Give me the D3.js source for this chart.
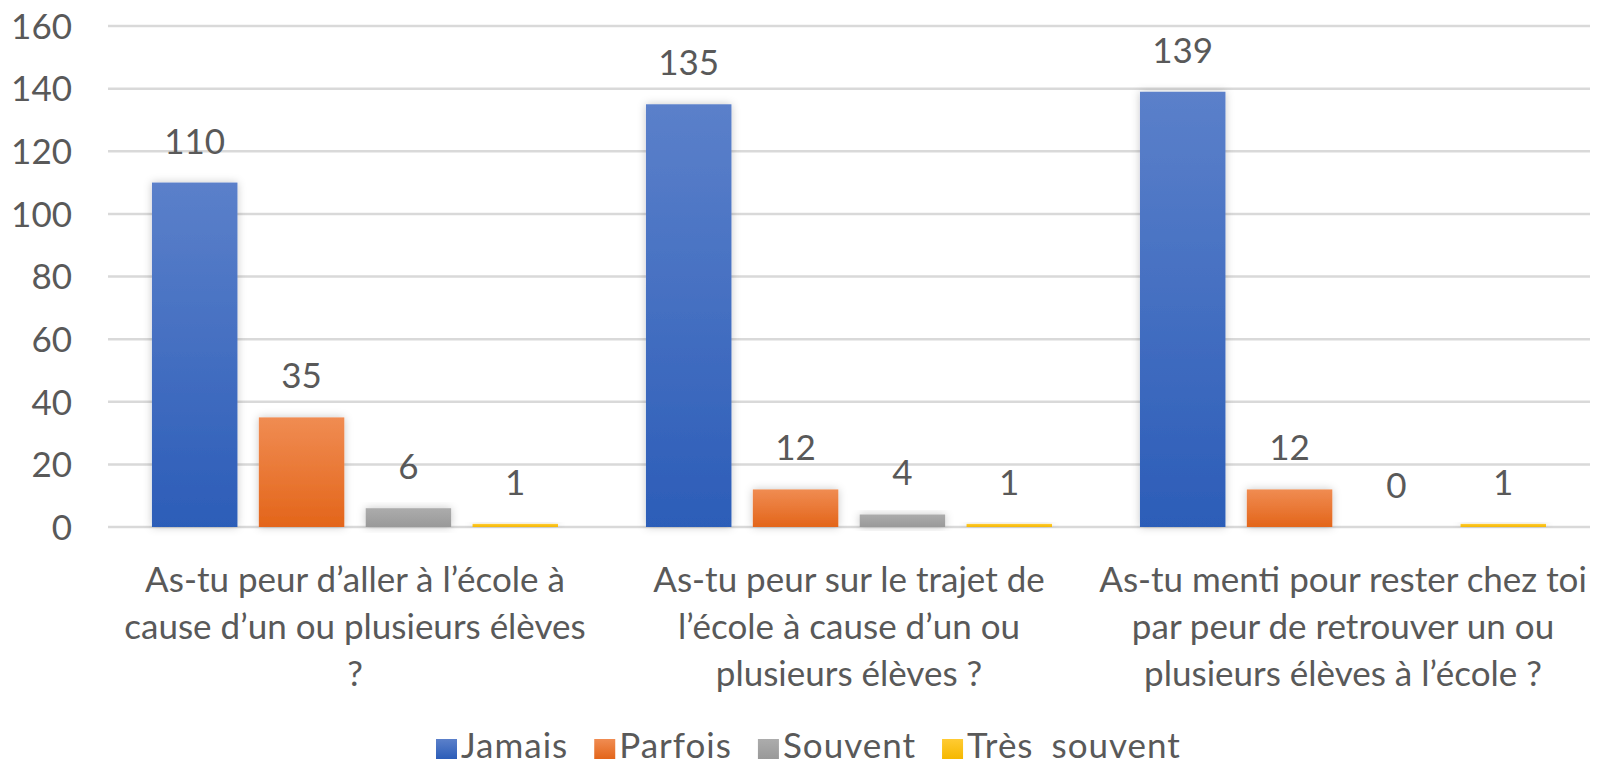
<!DOCTYPE html>
<html>
<head>
<meta charset="utf-8">
<script src="https://cdn.jsdelivr.net/npm/d3@7"></script>
<style>
  body { margin: 0; background: #fff; }
  text { font-family: Lato, 'Open Sans', sans-serif; fill: #595959; }
</style>
</head>
<body>
<div id="chart"></div>
<script>
const categories = [
  ['As-tu peur d’aller à l’école à', 'cause d’un ou plusieurs élèves', '?'],
  ['As-tu peur sur le trajet de', 'l’école à cause d’un ou', 'plusieurs élèves ?'],
  ['As-tu menti pour rester chez toi', 'par peur de retrouver un ou', 'plusieurs élèves à l’école ?']
]
const seriesNames = ['Jamais', 'Parfois', 'Souvent', 'Très souvent']
const jamais = [110, 135, 139]
const parfois = [35, 12, 12]
const souvent = [6, 4, 0]
const tresSouvent = [1, 1, 1]
const yTicks = [0, 20, 40, 60, 80, 100, 120, 140, 160]

const seriesValues = [jamais, parfois, souvent, tresSouvent]
const colors = [
  ['#5b80ca', '#2c5db8'],
  ['#f08c52', '#e3651a'],
  ['#acacac', '#999999'],
  ['#ffcb33', '#f5b800']
]

const width = 1599
const height = 768
const fontSize = 35
const plot = { left: 108, right: 1590, top: 26, bottom: 527 }

const svg = d3
  .select('#chart')
  .append('svg')
  .attr('width', width)
  .attr('height', height)

const defs = svg.append('defs')

const shadow = defs.append('filter')
  .attr('id', 'shadow')
  .attr('x', '-30%').attr('y', '-30%')
  .attr('width', '160%').attr('height', '160%')
shadow.append('feDropShadow')
  .attr('dx', 0).attr('dy', 0)
  .attr('stdDeviation', 4)
  .attr('flood-color', '#000')
  .attr('flood-opacity', 0.22)

colors.forEach((c, i) => {
  const g = defs.append('linearGradient')
    .attr('id', 'grad' + i)
    .attr('x1', 0).attr('y1', 0).attr('x2', 0).attr('y2', 1)
  g.append('stop').attr('offset', '0%').attr('stop-color', c[0])
  g.append('stop').attr('offset', '100%').attr('stop-color', c[1])
})

const x0 = d3.scaleBand()
  .domain(d3.range(categories.length))
  .range([plot.left, plot.right])
  .paddingInner(0.178)
  .paddingOuter(0.089)

const x1 = d3.scaleBand()
  .domain(d3.range(seriesNames.length))
  .range([0, x0.bandwidth()])
  .paddingInner(0.2)

const y = d3.scaleLinear()
  .domain([0, 160])
  .range([plot.bottom, plot.top])

// gridlines
svg.append('g')
  .selectAll('line')
  .data(yTicks)
  .enter()
  .append('line')
  .attr('x1', plot.left)
  .attr('x2', plot.right)
  .attr('y1', d => y(d))
  .attr('y2', d => y(d))
  .attr('stroke', '#d9d9d9')
  .attr('stroke-width', 2.5)

// y axis labels
const yAxis = d3.axisLeft(y).tickValues(yTicks).tickSize(0).tickPadding(0)
const yG = svg.append('g')
  .attr('transform', 'translate(72,0)')
  .call(yAxis)
yG.select('.domain').remove()
yG.selectAll('text')
  .attr('font-size', fontSize)
  .attr('font-family', null)
  .attr('dy', '0.35em')

// bars
const groups = svg.append('g')
  .selectAll('g')
  .data(categories)
  .enter()
  .append('g')
  .attr('transform', (d, i) => 'translate(' + x0(i) + ',0)')

groups.selectAll('rect')
  .data((d, i) => seriesValues.map((vals, s) => ({ s: s, v: vals[i] })))
  .enter()
  .append('rect')
  .attr('x', d => x1(d.s))
  .attr('width', x1.bandwidth())
  .attr('y', d => y(d.v))
  .attr('height', d => y(0) - y(d.v))
  .attr('fill', d => 'url(#grad' + d.s + ')')
  .attr('filter', 'url(#shadow)')

groups.selectAll('text.value')
  .data((d, i) => seriesValues.map((vals, s) => ({ s: s, v: vals[i] })))
  .enter()
  .append('text')
  .attr('class', 'value')
  .attr('x', d => x1(d.s) + x1.bandwidth() / 2)
  .attr('y', d => y(d.v) - 29)
  .attr('text-anchor', 'middle')
  .attr('font-size', fontSize)
  .text(d => d.v)

// category labels
groups.append('text')
  .attr('text-anchor', 'middle')
  .attr('font-size', fontSize)
  .selectAll('tspan')
  .data(d => d)
  .enter()
  .append('tspan')
  .attr('x', x0.bandwidth() / 2)
  .attr('y', (d, i) => 592 + i * 47)
  .text(d => d)

// legend
const legend = svg.append('g').attr('transform', 'translate(436,0)')
let lx = 0
seriesNames.forEach((name, i) => {
  legend.append('rect')
    .attr('x', lx)
    .attr('y', 739)
    .attr('width', 21)
    .attr('height', 20)
    .attr('fill', 'url(#grad' + i + ')')
  const t = legend.append('text')
    .attr('x', lx + 25)
    .attr('y', 758)
    .attr('font-size', fontSize)
    .attr('letter-spacing', 1)
    .attr('word-spacing', 8)
    .text(name)
  lx += 25 + t.node().getComputedTextLength() + 26
})
</script>
</body>
</html>
